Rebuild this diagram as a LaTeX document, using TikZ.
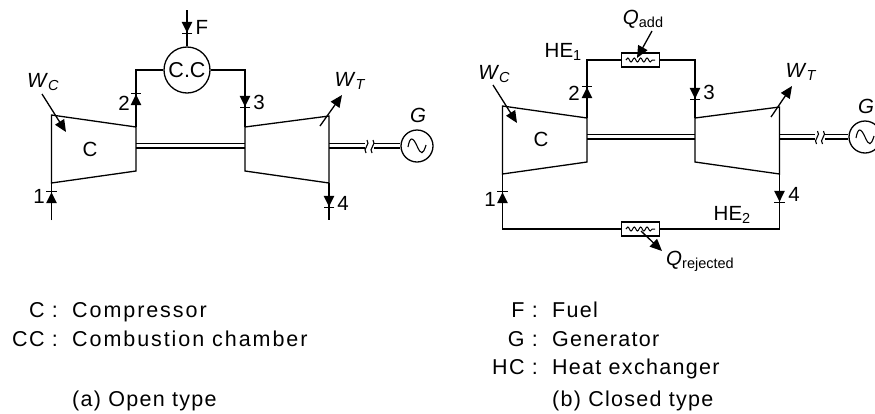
\documentclass[tikz,border=0pt]{standalone}
\usepackage{fontspec}
\setmainfont{Liberation Sans}
\newfontfamily\legendfont[LetterSpace=6]{Liberation Sans}
\newfontfamily\widefont[LetterSpace=9]{Liberation Sans}
\usetikzlibrary{arrows.meta,calc,decorations.pathmorphing}
\newcommand{\subtxt}[1]{\raisebox{-3pt}{\fontsize{14.5}{16}\selectfont #1}}

\begin{document}
\begin{tikzpicture}[
  x=1pt, y=-1pt,
  pipe/.style={line width=1.3pt, line join=miter},
  flow/.style={line width=1.3pt, -{Triangle[length=11pt,width=10.5pt,sep=0pt]Bar[width=10.5pt,line width=1.2pt]}},
  work/.style={line width=1.3pt, -{Triangle[length=12pt,width=10.5pt]}},
  shaft/.style={line width=1.1pt},
  brk/.style={line width=1.1pt},
  chamber/.style={circle, draw, line width=1.3pt, minimum size=46pt, inner sep=0pt, font=\fontsize{21.5}{24}\selectfont},
  gen/.style={circle, draw, line width=1.3pt, minimum size=32pt, inner sep=0pt},
  heater/.style={rectangle, draw, line width=1.3pt, fill=white, minimum width=38pt, minimum height=14pt, inner sep=0pt},
  coil/.style={line width=1pt, decorate, decoration={snake, segment length=6.4pt, amplitude=2pt}},
  lab/.style={inner sep=0pt, font=\fontsize{20.5}{24}\selectfont},
  legend/.style={inner sep=0pt, anchor=base west, font=\fontsize{21.5}{24}\selectfont\legendfont},
  legendw/.style={inner sep=0pt, anchor=base west, font=\fontsize{21.5}{24}\selectfont\widefont},
  keyw/.style={inner sep=0pt, anchor=base east, font=\fontsize{21.5}{24}\selectfont\legendfont},
]
\useasboundingbox (0,0) rectangle (875,413);

% open type
\coordinate (ca) at (51.5,115);
\coordinate (cb) at (136,127);
\coordinate (cc) at (136,171);
\coordinate (cd) at (51.5,183);
\coordinate (ta) at (245,127);
\coordinate (tb) at (329,116);
\coordinate (tc) at (329,183);
\coordinate (td) at (245,171);
\draw[pipe] (ca) -- (cb) -- (cc) -- (cd) -- cycle;
\draw[pipe] (ta) -- (tb) -- (tc) -- (td) -- cycle;

\node[chamber] (cch) at (187,70) {C.C};
\node[gen] (g1) at (417,146) {};
\coordinate (in1) at (51.5,220);
\coordinate (out1) at (329,220);
\coordinate (fuel) at (187,10);
\coordinate (p1) at (51.5,191);
\coordinate (p2) at (136,93);
\coordinate (p3) at (245,108);
\coordinate (p4) at (329,208);
\coordinate (pf) at (187,34);

\draw[pipe] (cb) |- (cch.west);
\draw[pipe] (ta) |- (cch.east);
\draw[pipe] (fuel) -- (cch.north);
\draw[pipe] (tc) -- (out1);
\draw[pipe] (in1) -- (cd);
\draw[flow] (in1) -- (p1);
\draw[flow] (cb) -- (p2);
\draw[flow] (245,70) -- (p3);
\draw[flow] (tc) -- (p4);
\draw[flow] (fuel) -- (pf);

\draw[shaft] (136,143.5) -- (245,143.5);
\draw[shaft] (136,148) -- (245,148);
\draw[shaft] (329,143.5) -- (364.5,143.5);
\draw[shaft] (329,148) -- (364.5,148);
\draw[shaft] (374,143.5) -- (g1.west|-0,143.5);
\draw[shaft] (374,148) -- (g1.west|-0,148);
\draw[brk] (367,140) .. controls (371,144) and (362,149) .. (366,153);
\draw[brk] (373,140) .. controls (377,144) and (368,149) .. (372,153);
\draw[line width=1.1pt] ($(g1.center)+(-9,1)$) .. controls +(2,-11) and +(-4,-9) .. (g1.center) .. controls +(4,9) and +(-3,10) .. ($(g1.center)+(9,-1)$);

\coordinate (wc1) at (42,94);
\coordinate (wc2) at (66,132);
\coordinate (wt1) at (320,126);
\coordinate (wt2) at (342,95);
\draw[work] (wc1) -- (wc2);
\draw[work] (wt1) -- (wt2);

\node[lab] (cl) at (90,149) {C};
\node[lab] (l1) at (39,196) {1};
\node[lab] (l2) at (124,103) {2};
\node[lab] (l3) at (259,102) {3};
\node[lab] (l4) at (343,203) {4};
\node[lab] (lf) at (202,27) {F};
\node[lab] (lg) at (418,115) {\textit{G}};
\node[lab] (lwc) at (43,82) {\textit{W}\subtxt{\textit{C}}};
\node[lab] (lwt) at (350,81) {\textit{W}\subtxt{\textit{T}}};

% closed type
\coordinate (ca2) at (502.5,106);
\coordinate (cb2) at (587,118);
\coordinate (cc2) at (587,162);
\coordinate (cd2) at (502.5,174);
\coordinate (ta2) at (695,118);
\coordinate (tb2) at (779.5,107);
\coordinate (tc2) at (779.5,174);
\coordinate (td2) at (695,162);
\draw[pipe] (ca2) -- (cb2) -- (cc2) -- (cd2) -- cycle;
\draw[pipe] (ta2) -- (tb2) -- (tc2) -- (td2) -- cycle;

\node[heater] (he1) at (640.5,60) {};
\node[heater] (he2) at (640.5,229) {};
\node[gen] (g2) at (865,137) {};
\coordinate (p1b) at (502.5,191);
\coordinate (p2b) at (587,86);
\coordinate (p3b) at (695,100);
\coordinate (p4b) at (779.5,203);
\coordinate (bl) at (502.5,229);
\coordinate (br) at (779.5,229);

\draw[pipe] (cb2) |- (he1.west);
\draw[pipe] (ta2) |- (he1.east);
\draw[pipe] (cd2) -- (bl) -- (he2.west);
\draw[pipe] (tc2) -- (br) -- (he2.east);
\draw[flow] (bl) -- (p1b);
\draw[flow] (cb2) -- (p2b);
\draw[flow] (695,60) -- (p3b);
\draw[flow] (tc2) -- (p4b);
\draw[coil] ($(he1.west)+(5,0)$) -- ($(he1.east)+(-5,0)$);
\draw[coil] ($(he2.west)+(5,0)$) -- ($(he2.east)+(-5,0)$);

\draw[shaft] (587,134.5) -- (695,134.5);
\draw[shaft] (587,139) -- (695,139);
\draw[shaft] (779.5,134.5) -- (815,134.5);
\draw[shaft] (779.5,139) -- (815,139);
\draw[shaft] (824.5,134.5) -- (g2.west|-0,134.5);
\draw[shaft] (824.5,139) -- (g2.west|-0,139);
\draw[brk] (817.5,131) .. controls (821.5,135) and (812.5,140) .. (816.5,144);
\draw[brk] (823.5,131) .. controls (827.5,135) and (818.5,140) .. (822.5,144);
\draw[line width=1.1pt] ($(g2.center)+(-9,1)$) .. controls +(2,-11) and +(-4,-9) .. (g2.center) .. controls +(4,9) and +(-3,10) .. ($(g2.center)+(9,-1)$);

\coordinate (wc3) at (493,85);
\coordinate (wc4) at (517,123);
\coordinate (wt3) at (771,117);
\coordinate (wt4) at (792,86);
\coordinate (qa1) at (652,31);
\coordinate (qa2) at (637,58);
\coordinate (qr1) at (641,231);
\coordinate (qr2) at (662,251);
\draw[work] (wc3) -- (wc4);
\draw[work] (wt3) -- (wt4);
\draw[work] (qa1) -- (qa2);
\draw[work] (qr1) -- (qr2);

\node[lab] (cl2) at (541,139) {C};
\node[lab] (l1b) at (490,199) {1};
\node[lab] (l2b) at (574,93) {2};
\node[lab] (l3b) at (709,92) {3};
\node[lab] (l4b) at (794,194) {4};
\node[lab] (lg2) at (866,106) {\textit{G}};
\node[lab] (lwc2) at (494,74) {\textit{W}\subtxt{\textit{C}}};
\node[lab] (lwt2) at (801,72) {\textit{W}\subtxt{\textit{T}}};
\node[lab] (lhe1) at (563,52) {HE\subtxt{1}};
\node[lab] (lhe2) at (732,215) {HE\subtxt{2}};
\node[lab] (lqa) at (643,19) {\textit{Q}\subtxt{add}};
\node[lab] (lqr) at (700,261) {\textit{Q}\subtxt{rejected}};

% legends
\node[keyw] (k1) at (58,317) {C :};
\node[legendw] (v1) at (72,317) {Compressor};
\node[keyw] (k2) at (58,346) {CC :};
\node[legendw] (v2) at (72,346) {Combustion chamber};
\node[legend] (v3) at (72,406) {(a) Open type};
\node[keyw] (k4) at (538,317) {F :};
\node[legend] (v4) at (552,317) {Fuel};
\node[keyw] (k5) at (538,346) {G :};
\node[legend] (v5) at (552,346) {Generator};
\node[keyw] (k6) at (538,374) {HC :};
\node[legend] (v6) at (552,374) {Heat exchanger};
\node[legend] (v7) at (552,406) {(b) Closed type};
\end{tikzpicture}
\end{document}
